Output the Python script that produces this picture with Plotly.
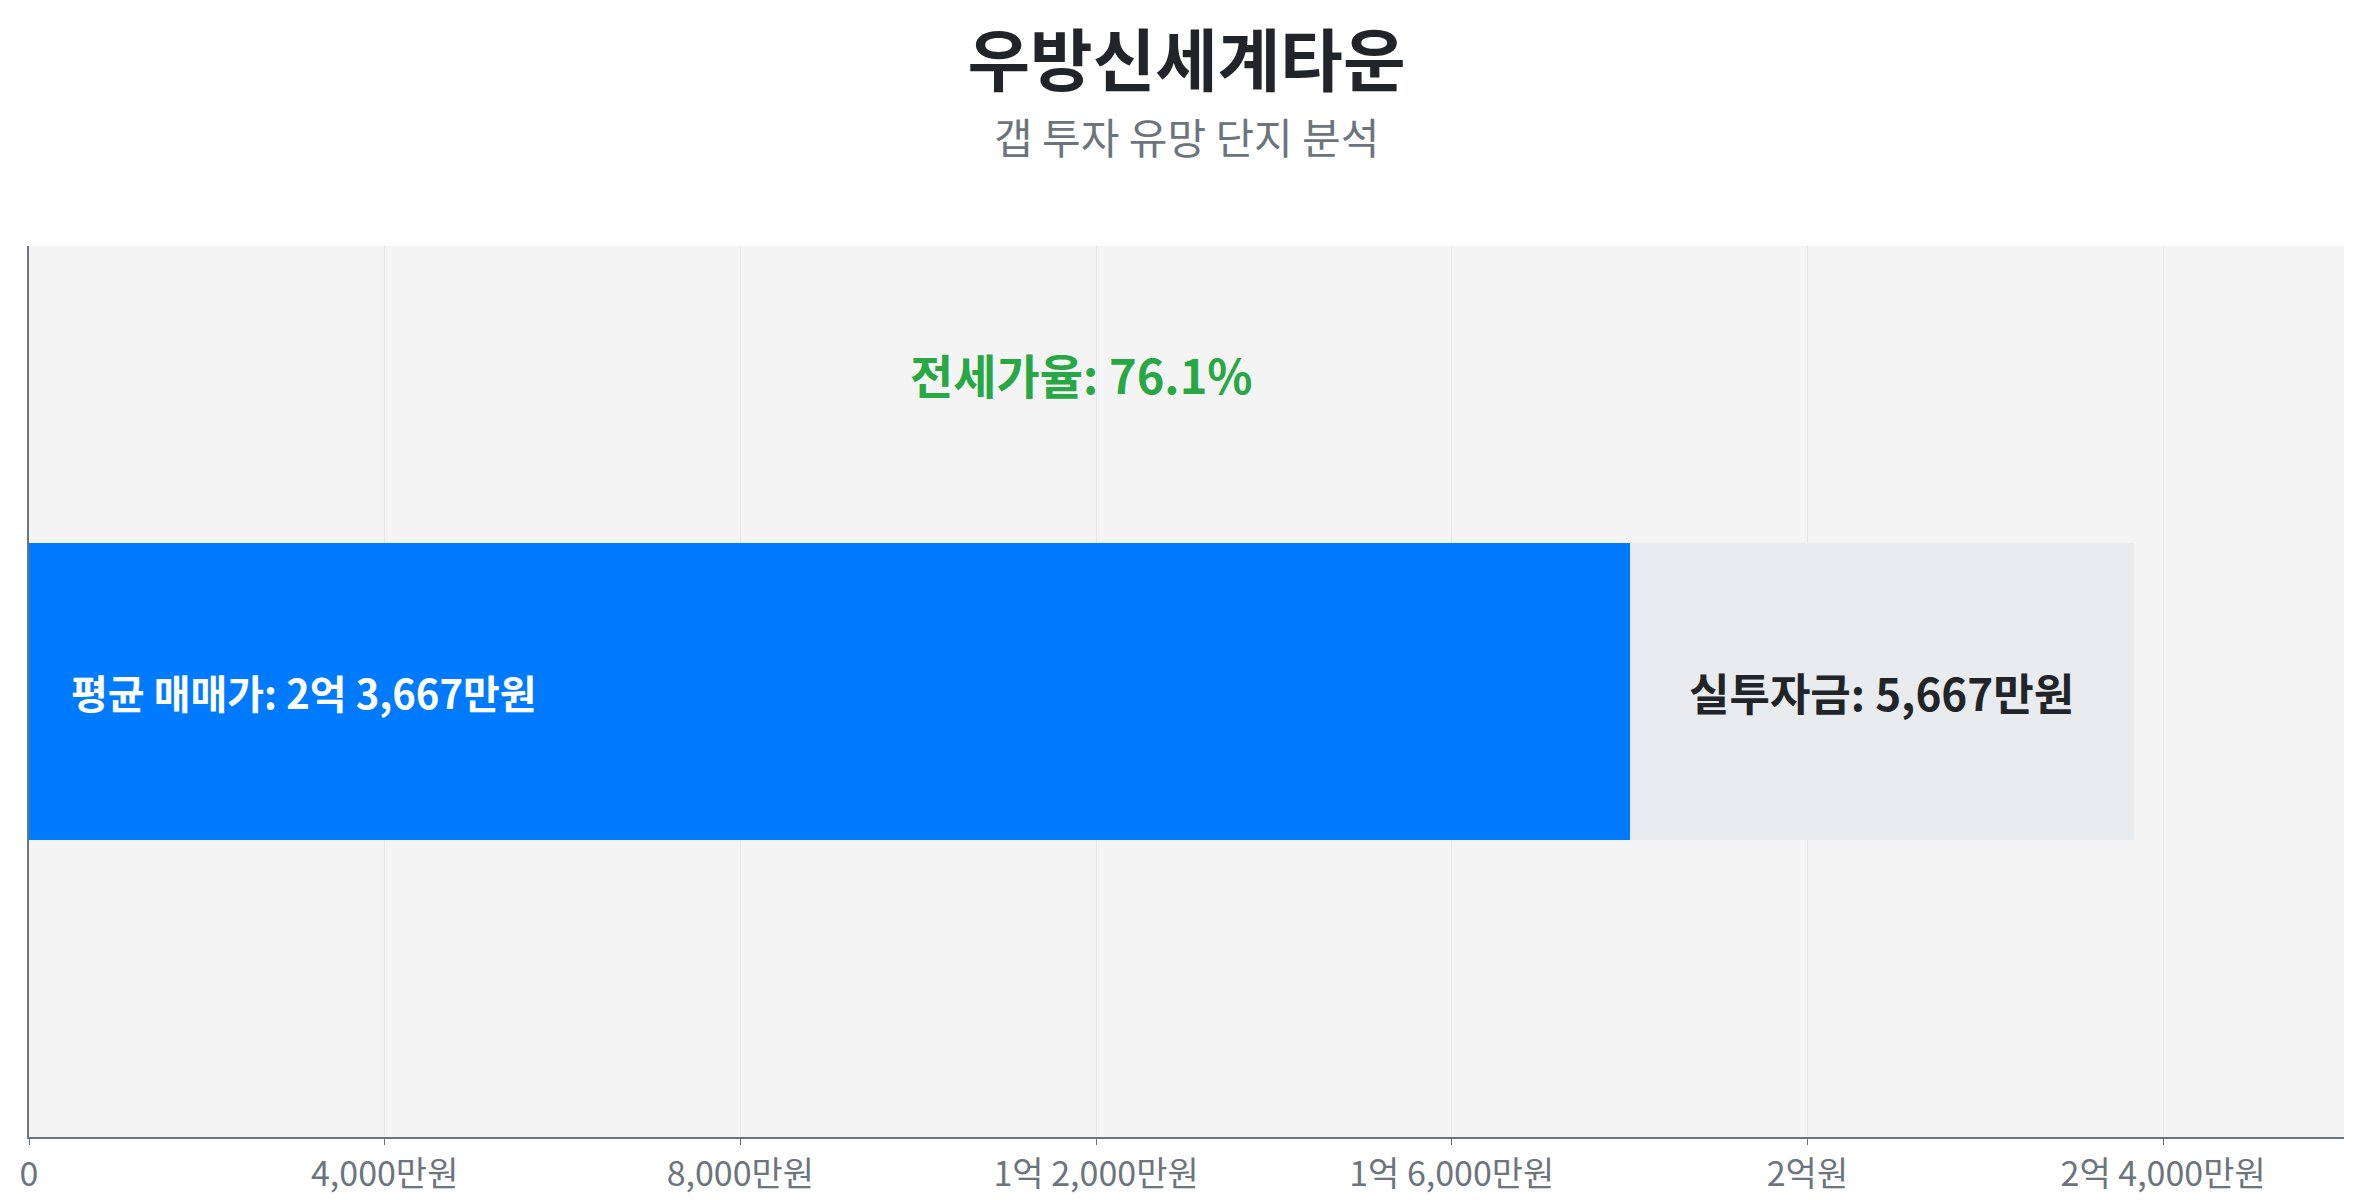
import plotly.graph_objects as go

# 단지 정보 (단위: 만원)
complex_name = '우방신세계타운'
sub_title = '갭 투자 유망 단지 분석'
avg_sale_price = 23667
jeonse_price = 18000
real_invest = 5667
jeonse_ratio = 76.1

tick_vals = [0, 4000, 8000, 12000, 16000, 20000, 24000]

FONT = 'Noto Sans CJK KR'


#만원 단위 숫자를 '2억 3,667만원' 형태로 변환
def fmtWon(v):
    if v == 0:
        return '0'
    eok = int(v) // 10000
    man = int(v) % 10000
    if eok and man:
        return '{}억 {:,}만원'.format(eok, man)
    elif eok:
        return '{}억원'.format(eok)
    return '{:,}만원'.format(man)


fig = go.Figure()

#전세가 부분 (파란색)
fig.add_trace(go.Bar(x=[jeonse_price], y=[0], orientation='h', width=1,
                     marker=dict(color='#007bff', line=dict(width=0)),
                     hoverinfo='skip', showlegend=False))
#실투자금 부분 (회색)
fig.add_trace(go.Bar(x=[real_invest], y=[0], orientation='h', width=1,
                     marker=dict(color='#e9ecef', line=dict(width=0)),
                     text=['실투자금: {}'.format(fmtWon(real_invest))],
                     textposition='inside', insidetextanchor='middle',
                     textfont=dict(family=FONT, size=44, color='#212529', weight='bold'),
                     hoverinfo='skip', showlegend=False))

#평균 매매가 라벨
fig.add_annotation(x=0, y=0, xref='x', yref='y', xanchor='left', xshift=40,
                   text='<b>평균 매매가: {}</b>'.format(fmtWon(avg_sale_price)),
                   showarrow=False, font=dict(family=FONT, size=40, color='white'))

#전세가율 라벨
fig.add_annotation(x=avg_sale_price / 2, y=1.07, xref='x', yref='y',
                   text='<b>전세가율: {}%</b>'.format(jeonse_ratio),
                   showarrow=False, font=dict(family=FONT, size=47, color='#28a745'))

#부제목
fig.add_annotation(x=0.5, y=1.124, xref='paper', yref='paper', yanchor='middle',
                   text=sub_title, showarrow=False,
                   font=dict(family=FONT, size=42, color='#6c757d'))

fig.update_layout(
    width=2357, height=1200,
    barmode='stack',
    title=dict(text='<b>{}</b>'.format(complex_name), x=0.5, xanchor='center',
               y=1 - 54 / 1200, yanchor='middle',
               font=dict(family=FONT, size=68, color='#212529')),
    margin=dict(l=13, r=21, t=238, b=66),
    paper_bgcolor='white',
    plot_bgcolor='#f4f4f4',
    font=dict(family=FONT),
    xaxis=dict(range=[0, avg_sale_price * 1.1], tickvals=tick_vals,
               ticktext=[fmtWon(v) for v in tick_vals],
               showgrid=True, gridcolor='#e6e6e6', gridwidth=1,
               showline=True, linecolor='#6c757d', linewidth=2,
               ticks='outside', ticklen=6, tickcolor='#6c757d',
               tickfont=dict(family=FONT, size=34, color='#6c757d'),
               zeroline=False, fixedrange=True),
    yaxis=dict(range=[-1.5, 1.5], showticklabels=False, showgrid=False,
               zeroline=False, showline=True, linecolor='#6c757d', linewidth=2,
               fixedrange=True),
)

fig.write_html('out.html')
